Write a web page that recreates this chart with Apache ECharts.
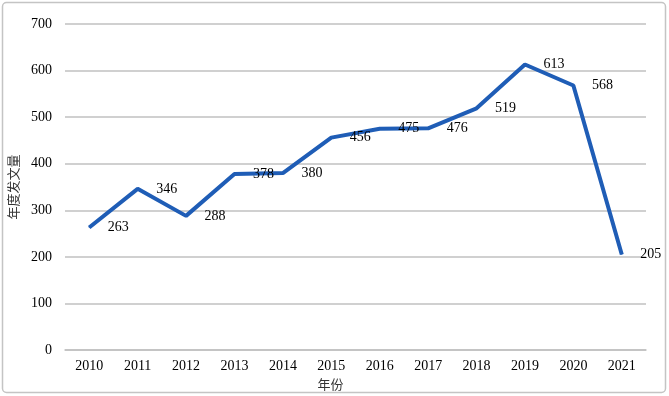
<!DOCTYPE html>
<html>
<head>
<meta charset="utf-8">
<script src="https://cdn.jsdelivr.net/npm/echarts@6/dist/echarts.min.js"></script>
<style>
html,body{margin:0;padding:0;background:#fff}
#chart{width:669px;height:396px}
</style>
</head>
<body>
<div id="chart"></div>
<script>
let years=["2010","2011","2012","2013","2014","2015","2016","2017","2018","2019","2020","2021"]
let counts=[263,346,288,378,380,456,475,476,519,613,568,205]
let yTicks={min:0,max:700,interval:100}

let font="'Liberation Serif','Times New Roman',serif"
let myChart=echarts.init(document.getElementById("chart"))
myChart.setOption({
	animation:false,
	graphic:[{
		type:"rect",
		shape:{x:2.5,y:2.5,width:663,height:390,r:4},
		style:{fill:"none",stroke:"#c4c4c4",lineWidth:1.5}
	}],
	grid:{left:65,right:23,top:24,bottom:46,outerBoundsMode:"none",containLabel:false},
	xAxis:{
		type:"category",
		data:years,
		name:"年份",
		nameLocation:"middle",
		nameGap:24,
		nameTextStyle:{fontFamily:"'Noto Sans CJK SC'",fontSize:13,color:"#333",padding:[0,50,0,0]},
		axisLine:{lineStyle:{color:"#c0c0c0",width:1.5}},
		axisTick:{show:false},
		axisLabel:{fontFamily:font,fontSize:14,color:"#000",margin:9}
	},
	yAxis:{
		type:"value",
		min:yTicks.min,
		max:yTicks.max,
		interval:yTicks.interval,
		name:"年度发文量",
		nameLocation:"middle",
		nameRotate:90,
		nameGap:45,
		nameTextStyle:{fontFamily:"'Noto Sans CJK SC'",fontSize:13,color:"#333"},
		axisLine:{show:false},
		axisTick:{show:false},
		splitLine:{lineStyle:{color:"#c0c0c0",width:1.5}},
		axisLabel:{fontFamily:font,fontSize:14,color:"#000",margin:13}
	},
	series:[{
		type:"line",
		data:counts,
		symbol:"circle",
		symbolSize:1,
		showSymbol:true,
		itemStyle:{color:"#1f5db6"},
		lineStyle:{color:"#1f5db6",width:4},
		label:{
			show:true,
			position:"right",
			distance:18,
			fontFamily:font,
			fontSize:14,
			color:"#000"
		}
	}]
})
</script>
</body>
</html>
